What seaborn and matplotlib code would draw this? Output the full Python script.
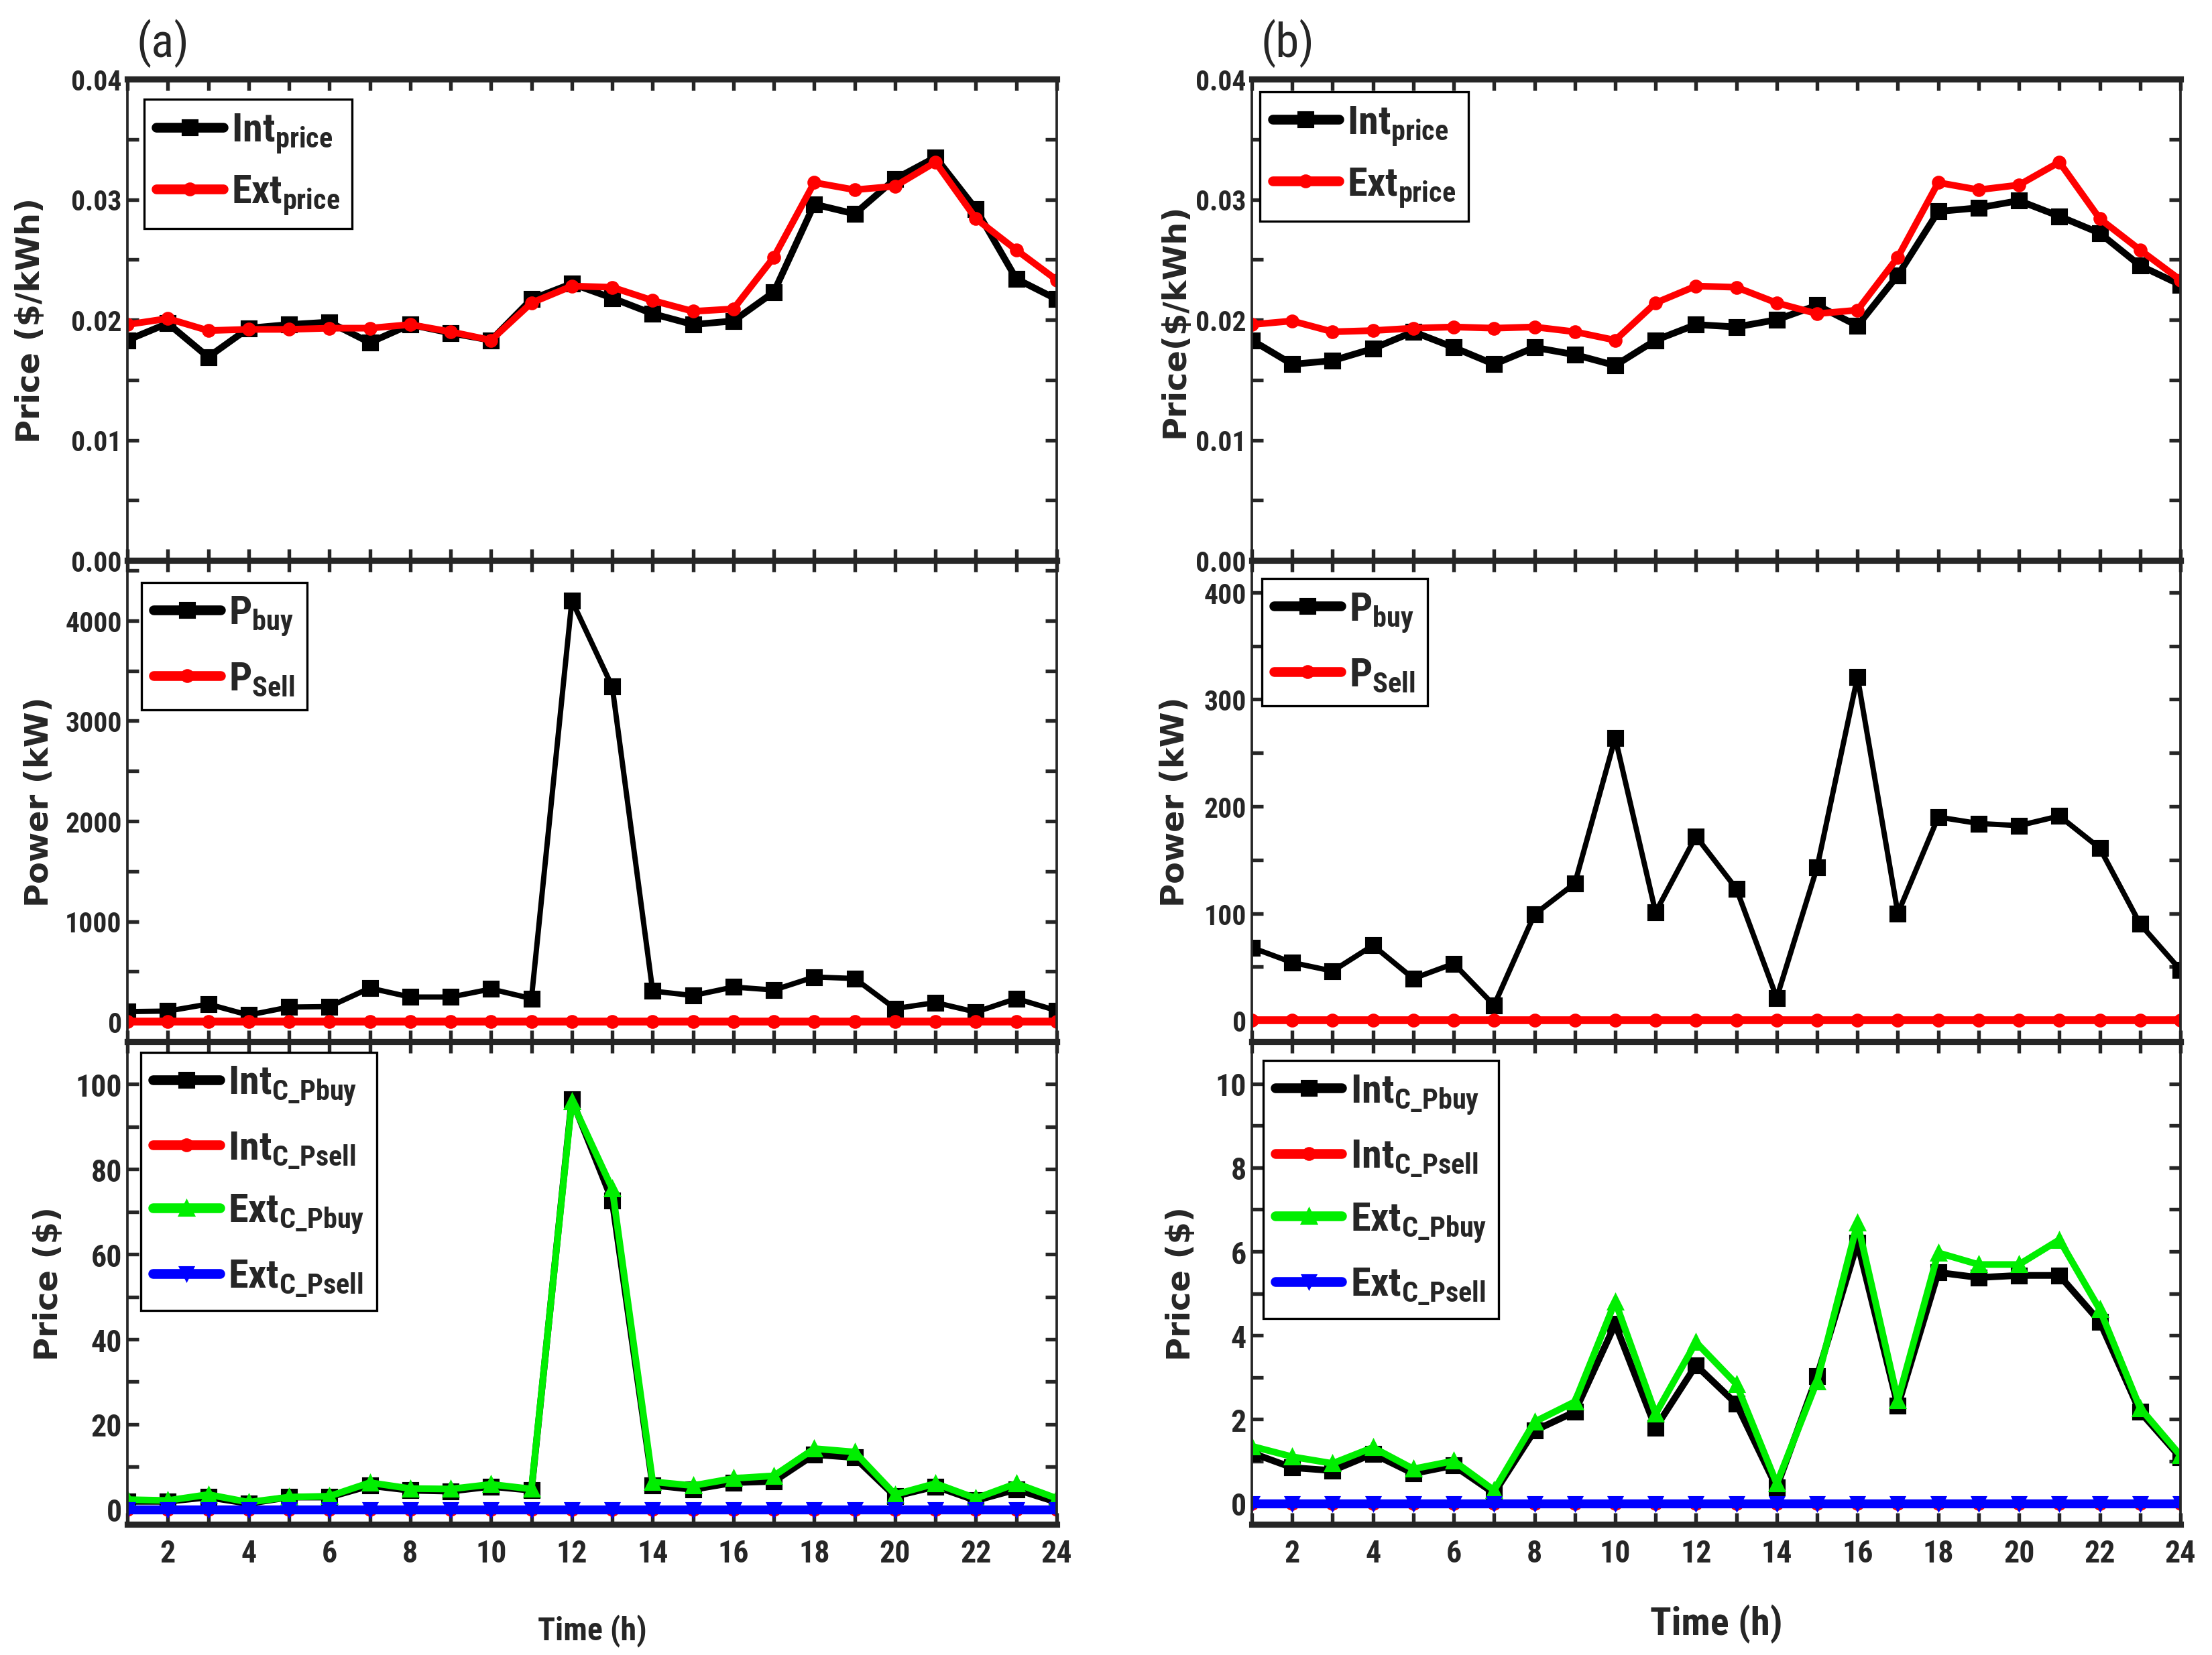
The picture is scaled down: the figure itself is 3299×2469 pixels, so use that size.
import numpy as np
import pandas as pd
import matplotlib
matplotlib.use("Agg")
import matplotlib.pyplot as plt
import seaborn as sns
from matplotlib import font_manager
from matplotlib.ticker import MultipleLocator, FormatStrFormatter

# dados
hours = list(range(1, 25))

int_price_a = [0.0183, 0.0197, 0.0169, 0.0193, 0.0196, 0.0198, 0.0181, 0.0196, 0.0189, 0.0183,
               0.0217, 0.0230, 0.0218, 0.0205, 0.0196, 0.0199, 0.0223, 0.0296, 0.0288, 0.0317,
               0.0335, 0.0292, 0.0234, 0.0217]
ext_price_a = [0.0196, 0.0201, 0.0191, 0.0192, 0.0192, 0.0193, 0.0193, 0.0196, 0.0190, 0.0183,
               0.0214, 0.0228, 0.0227, 0.0216, 0.0207, 0.0209, 0.0252, 0.0314, 0.0308, 0.0311,
               0.0331, 0.0284, 0.0258, 0.0233]
int_price_b = [0.0183, 0.0163, 0.0166, 0.0176, 0.0190, 0.0177, 0.0163, 0.0177, 0.0171, 0.0162,
               0.0183, 0.0196, 0.0194, 0.0200, 0.0212, 0.0195, 0.0237, 0.0290, 0.0293, 0.0299,
               0.0286, 0.0272, 0.0245, 0.0229]
ext_price_b = [0.0196, 0.0199, 0.0190, 0.0191, 0.0193, 0.0194, 0.0193, 0.0194, 0.0190, 0.0183,
               0.0214, 0.0228, 0.0227, 0.0214, 0.0205, 0.0208, 0.0252, 0.0314, 0.0308, 0.0312,
               0.0331, 0.0284, 0.0258, 0.0233]

p_buy_a = [100, 105, 175, 65, 145, 150, 335, 245, 245, 325, 230, 4200, 3340, 305, 260, 345,
           315, 445, 430, 130, 190, 95, 230, 110]
p_buy_b = [68, 54, 46, 70, 39, 53, 14, 99, 128, 264, 101, 172, 123, 21, 143, 321, 100, 190,
           184, 182, 191, 161, 90, 47]
p_sell_a = [0] * 24
p_sell_b = [0] * 24

int_c_buy_a = [1.9, 1.9, 2.9, 1.4, 2.9, 2.9, 5.6, 4.5, 4.3, 5.4, 4.5, 96.4, 72.6, 5.7, 4.7, 6.3,
               6.6, 12.9, 12.2, 3.1, 5.4, 2.1, 4.7, 1.7]
ext_c_buy_a = [2.3, 2.1, 3.5, 1.7, 2.9, 3.1, 6.3, 4.9, 4.8, 5.9, 4.8, 95.9, 75.4, 6.5, 5.6, 7.3,
               7.9, 14.3, 13.5, 3.5, 6.1, 2.6, 6.1, 2.6]
int_c_buy_b = [1.20, 0.85, 0.78, 1.18, 0.71, 0.90, 0.24, 1.73, 2.18, 4.27, 1.80, 3.29, 2.37, 0.38,
               3.03, 6.21, 2.32, 5.50, 5.38, 5.43, 5.43, 4.33, 2.18, 1.09]
ext_c_buy_b = [1.36, 1.11, 0.95, 1.33, 0.82, 1.01, 0.31, 1.94, 2.42, 4.81, 2.13, 3.84, 2.84, 0.47,
               2.91, 6.68, 2.46, 5.97, 5.69, 5.69, 6.28, 4.62, 2.27, 1.14]
int_c_sell = [0] * 24
ext_c_sell = [0] * 24

sns.set_style("ticks")

# fonte estreita (tipo Arial Narrow), se houver
nomes = {f.name for f in font_manager.fontManager.ttflist}
narrow = 'DejaVu Sans'
for cand in ['Liberation Sans Narrow', 'Arial Narrow', 'Roboto Condensed',
             'Open Sans Condensed', 'Noto Sans Condensed', 'Inter Tight']:
    if cand in nomes:
        narrow = cand
        break
plt.rcParams['font.family'] = [narrow, 'DejaVu Sans']
plt.rcParams['font.weight'] = 'bold'
plt.rcParams['mathtext.fontset'] = 'custom'
plt.rcParams['mathtext.rm'] = narrow + ':bold'
plt.rcParams['mathtext.default'] = 'rm'
plt.rcParams['xtick.direction'] = 'in'
plt.rcParams['ytick.direction'] = 'in'

fig = plt.figure(figsize=(3299 / 300, 2470 / 300), dpi=300)

W = 2470
def axes_box(left, right, top, bottom):
    return [left / 3299, 1 - bottom / W, (right - left) / 3299, (bottom - top) / W]

rows = [(119, 837), (837, 1555), (1555, 2275)]
cols = [(190, 1576), (1867, 3252)]
axs = [[fig.add_axes(axes_box(c[0], c[1], r[0], r[1])) for c in cols] for r in rows]

lab_font = dict(family='DejaVu Sans', weight='bold', size=11.5)


def estilo(ax, ylim, major, minor, fmt=None, xlabels=False, tsize=10):
    ax.set_xlim(1, 24)
    ax.set_ylim(*ylim)
    ax.xaxis.set_major_locator(MultipleLocator(2))
    ax.xaxis.set_minor_locator(MultipleLocator(1))
    ax.yaxis.set_major_locator(MultipleLocator(major))
    ax.yaxis.set_minor_locator(MultipleLocator(minor))
    if fmt:
        ax.yaxis.set_major_formatter(FormatStrFormatter(fmt))
    ax.tick_params(which='both', top=True, right=True, length=4, width=1.3)
    ax.tick_params(axis='y', labelsize=tsize, pad=2)
    ax.tick_params(axis='x', labelsize=11, labelbottom=xlabels, pad=5)
    for s in ['top', 'bottom']:
        ax.spines[s].set_linewidth(2.2)
    for s in ['left', 'right']:
        ax.spines[s].set_linewidth(0.9)
    ax.set_xlabel('')


def legenda(ax, x, y, fs=14.5, sp=0.45):
    leg = ax.legend(loc='upper left', bbox_to_anchor=(x, y), borderaxespad=0, fontsize=fs,
                    frameon=True, fancybox=False, edgecolor='black', framealpha=1,
                    handlelength=1.65, handletextpad=0.2, borderpad=0.3, labelspacing=sp)
    leg.get_frame().set_linewidth(0.8)
    for h in leg.get_lines():
        h.set_linewidth(3.5)


# linha 1: precos
for j, (ip, ep) in enumerate([(int_price_a, ext_price_a), (int_price_b, ext_price_b)]):
    ax = axs[0][j]
    sns.lineplot(x=hours, y=ip, ax=ax, color='black', lw=2.4, marker='s', ms=5.2, mec='black',
                 label='Int$_{price}$')
    sns.lineplot(x=hours, y=ep, ax=ax, color='red', lw=2.4, marker='o', ms=4.2, mec='red',
                 label='Ext$_{price}$')
    estilo(ax, (0, 0.04), 0.01, 0.005, '%.2f')
legenda(axs[0][0], 0.018, 0.958)
legenda(axs[0][1], 0.009, 0.974)
axs[0][0].set_ylabel('Price ($/kWh)', **lab_font)
axs[0][1].set_ylabel('Price($/kWh)', **lab_font)
axs[0][0].yaxis.set_label_coords(-0.087, 0.5)
axs[0][1].yaxis.set_label_coords(-0.066, 0.5)

# linha 2: potencia
for j, (pb, ps) in enumerate([(p_buy_a, p_sell_a), (p_buy_b, p_sell_b)]):
    ax = axs[1][j]
    sns.lineplot(x=hours, y=pb, ax=ax, color='black', lw=1.9, marker='s', ms=5.2, mec='black',
                 label='P$_{buy}$')
    sns.lineplot(x=hours, y=ps, ax=ax, color='red', lw=2.8, marker='o', ms=4.2, mec='red',
                 label='P$_{Sell}$')
estilo(axs[1][0], (-200, 4600), 1000, 500)
estilo(axs[1][1], (-20, 430), 100, 50)
legenda(axs[1][0], 0.015, 0.954, sp=0.55)
legenda(axs[1][1], 0.011, 0.962, sp=0.55)
for j, xc in enumerate([-0.078, -0.066]):
    axs[1][j].set_ylabel('Power (kW)', **lab_font)
    axs[1][j].yaxis.set_label_coords(xc, 0.5)

# linha 3: custos
for j, (ib, eb) in enumerate([(int_c_buy_a, ext_c_buy_a), (int_c_buy_b, ext_c_buy_b)]):
    ax = axs[2][j]
    sns.lineplot(x=hours, y=ib, ax=ax, color='black', lw=2.4, marker='s', ms=5.2, mec='black',
                 label='Int$_{C\\_Pbuy}$')
    sns.lineplot(x=hours, y=int_c_sell, ax=ax, color='red', lw=2.8, marker='o', ms=4.2,
                 mec='red', label='Int$_{C\\_Psell}$')
    sns.lineplot(x=hours, y=eb, ax=ax, color='#00ee00', lw=2.4, marker='^', ms=5.5, mec='#00ee00',
                 label='Ext$_{C\\_Pbuy}$')
    sns.lineplot(x=hours, y=ext_c_sell, ax=ax, color='#0000ff', lw=3.2, marker='v', ms=5,
                 mec='#0000ff', label='Ext$_{C\\_Psell}$')
estilo(axs[2][0], (-3.5, 110), 20, 10, xlabels=True, tsize=11)
estilo(axs[2][1], (-0.5, 11), 2, 1, xlabels=True, tsize=11)
legenda(axs[2][0], 0.0146, 0.978, sp=0.55)
legenda(axs[2][1], 0.012, 0.961, sp=0.55)
for j, xc in enumerate([-0.068, -0.059]):
    axs[2][j].set_ylabel('Price ($)', **lab_font)
    axs[2][j].yaxis.set_label_coords(xc, 0.5)
axs[2][0].set_xlabel('Time (h)', fontsize=11.5, fontweight='bold')
axs[2][1].set_xlabel('Time (h)', fontsize=14, fontweight='bold')
axs[2][0].xaxis.set_label_coords(0.5, -0.185)
axs[2][1].xaxis.set_label_coords(0.5, -0.165)

fig.text(0.0737, 0.974, '(a)', fontsize=17, fontweight='normal', ha='center', va='center')
fig.text(0.582, 0.974, '(b)', fontsize=17, fontweight='normal', ha='center', va='center')

fig.savefig('out.png', dpi=300, facecolor='white')
